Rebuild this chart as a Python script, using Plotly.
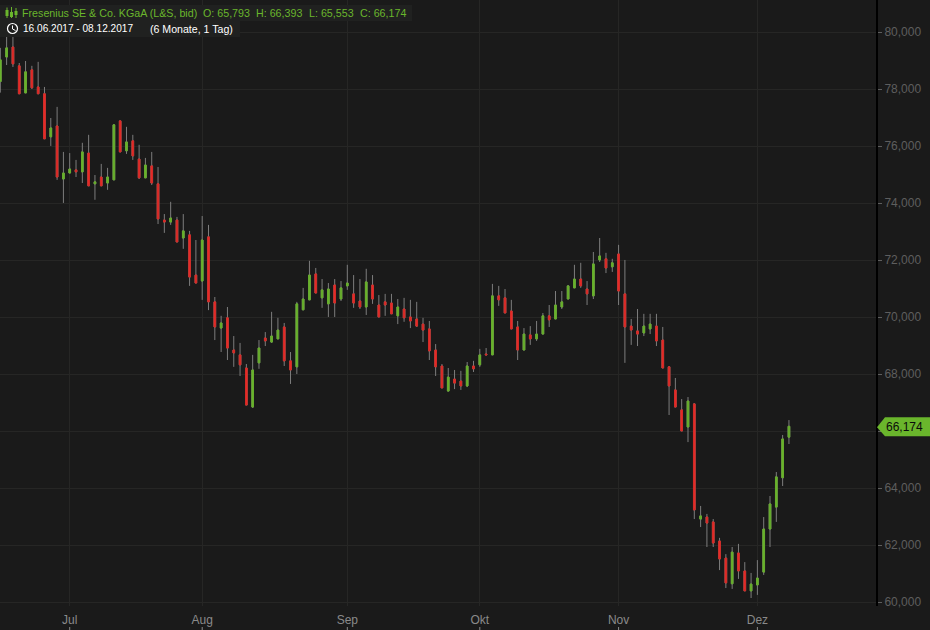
import pandas as pd
import plotly.graph_objects as go

dates = pd.bdate_range("2017-06-16", "2017-12-08")

opens = [78.27,79.13,79.48,78.82,77.87,78.68,78.08,77.84,76.33,76.71,74.85,75.06,75.17,75.10,75.76,74.68,74.92,74.71,74.82,76.89,
75.84,76.19,75.55,74.89,75.31,74.68,73.41,73.34,73.41,72.78,72.89,71.48,71.27,72.82,70.54,69.62,69.98,68.85,68.68,68.22,
66.85,68.40,69.27,69.13,69.24,69.66,68.47,68.26,70.26,70.61,71.52,70.68,70.47,71.13,70.64,71.10,70.82,70.57,70.36,71.13,
70.43,70.54,70.50,70.05,70.29,70.01,69.94,69.76,69.59,68.85,68.29,67.41,67.83,67.76,67.59,68.29,68.33,68.71,68.68,70.75,
70.68,70.22,69.66,68.85,69.38,69.24,69.41,70.05,69.94,70.36,70.64,71.03,71.34,70.99,70.75,72.01,72.05,71.77,72.22,70.82,
69.69,69.52,69.45,69.59,69.69,69.20,68.26,67.45,66.75,66.15,66.96,62.92,62.99,62.82,62.15,61.55,60.65,61.73,61.10,60.40,
60.61,61.06,62.57,63.34,64.37,65.793]

closes = [79.03,79.45,78.89,77.84,78.61,78.05,77.84,76.26,76.64,74.92,75.06,75.20,75.10,75.80,74.61,74.75,74.61,74.92,76.75,75.80,
76.15,75.66,74.89,75.34,74.71,73.45,73.34,73.48,72.64,73.03,71.41,71.20,72.71,70.54,69.66,69.80,68.92,68.75,68.33,66.92,
68.15,68.92,69.17,69.34,69.55,68.47,68.15,70.47,70.64,71.48,70.85,70.96,70.99,70.50,71.03,71.20,70.50,70.36,71.24,70.64,
70.01,70.43,70.12,70.36,69.98,69.87,69.69,69.55,68.82,68.26,67.52,67.90,67.69,67.59,68.29,68.19,68.68,68.68,70.75,70.61,
70.15,69.59,68.85,69.41,69.24,69.41,70.05,69.91,70.43,70.54,71.10,71.34,71.10,70.82,71.87,72.15,71.73,71.91,70.92,69.66,
69.55,69.41,69.69,69.76,69.17,68.22,67.59,66.85,66.01,67.06,63.24,63.03,62.78,62.08,61.52,60.68,61.76,61.10,60.40,60.64,
60.85,62.57,63.45,64.40,65.73,66.174]

highs = [79.45,79.94,79.94,78.92,78.99,78.82,78.96,78.08,76.99,77.38,75.80,75.76,75.52,76.12,76.40,74.99,75.38,75.24,76.78,76.89,
76.68,76.40,76.05,75.59,75.80,75.27,73.62,74.05,73.52,73.62,73.03,72.71,73.55,73.24,70.71,70.05,70.36,69.34,69.10,68.36,
68.68,69.20,69.48,70.19,69.98,69.80,68.78,70.54,71.03,71.98,71.73,71.34,71.20,71.34,71.27,71.84,71.48,71.34,71.70,71.48,
70.78,70.82,70.82,70.64,70.68,70.61,70.54,69.98,69.87,69.06,68.36,68.22,68.15,68.12,68.43,68.47,68.89,68.92,71.17,71.10,
70.99,70.61,69.87,69.62,69.69,69.87,70.15,70.43,70.92,70.92,71.13,71.84,71.91,71.27,72.29,72.78,72.26,72.05,72.54,72.01,
69.94,70.29,70.12,70.12,70.12,69.66,68.29,67.87,67.13,67.20,66.99,63.38,63.10,62.92,62.26,61.69,61.94,62.05,61.41,61.03,
61.48,62.99,63.73,64.57,65.87,66.393]

lows = [77.88,78.85,78.78,77.84,77.87,78.01,77.84,76.26,76.01,74.82,74.01,75.06,74.92,74.71,74.61,74.12,74.61,74.47,74.82,75.80,
75.73,75.52,74.85,74.89,74.64,73.27,72.96,73.24,72.64,72.40,71.10,71.20,70.61,70.25,69.20,68.78,68.50,68.26,67.94,66.92,
66.82,68.19,68.99,69.10,69.24,68.29,67.66,68.01,70.26,70.61,70.85,70.33,70.01,70.01,70.57,70.96,70.33,70.29,70.08,70.47,
70.01,70.05,70.12,69.76,69.84,69.62,69.66,69.13,68.50,67.94,67.52,67.41,67.48,67.45,67.55,68.08,68.26,68.68,68.68,70.40,
70.15,69.59,68.50,68.85,69.03,69.17,69.41,69.66,69.94,70.29,70.64,71.03,71.03,70.43,70.64,71.94,71.55,71.59,70.43,68.40,
69.03,68.99,69.34,69.41,68.99,68.22,66.57,66.85,66.01,65.62,62.92,62.64,61.94,61.94,61.13,60.50,60.47,60.82,60.40,60.15,
60.26,60.96,61.94,62.82,64.08,65.553]

month_labels = ["Jul", "Aug", "Sep", "Okt", "Nov", "Dez"]
price_ticks = [60, 62, 64, 66, 68, 70, 72, 74, 76, 78, 80]
# the 66,000 label sits behind the current-price tag in the reference
price_tick_labels = ["60,000", "62,000", "64,000", "", "68,000", "70,000",
                     "72,000", "74,000", "76,000", "78,000", "80,000"]

title = "Fresenius SE & Co. KGaA (L&S, bid)"
quote = ["O: 65,793", "H: 66,393", "L: 65,553", "C: 66,174"]
period = "16.06.2017 - 08.12.2017"
span = "(6 Monate, 1 Tag)"
last_label = "66,174"

BG = "#1a1a1a"
GRID = "#262625"
GREEN = "#6ab62c"
RED = "#f02b28"
FONT = "Liberation Sans, Arial, sans-serif"
W, H, PLOT_W, PLOT_H = 930, 630, 876, 606

sessions = list(range(len(dates)))
body_top = [max(a, b) for a, b in zip(opens, closes)]
body_bot = [min(a, b) for a, b in zip(opens, closes)]

# session index of the first trading day of each labelled month
month_ticks = []
seen = set()
for i, d in enumerate(dates):
    key = (d.year, d.month)
    if key not in seen:
        seen.add(key)
        if i > 0:
            month_ticks.append(i)

fig = go.Figure()
# thin grey wicks
fig.add_trace(go.Candlestick(
    x=sessions, open=opens, high=highs, low=lows, close=closes,
    increasing=dict(line=dict(color="#7d7d7d", width=1), fillcolor="#1a1a1a"),
    decreasing=dict(line=dict(color="#7d7d7d", width=1), fillcolor="#1a1a1a"),
    whiskerwidth=0, hoverinfo="skip", showlegend=False))
# coloured bodies on top
fig.add_trace(go.Candlestick(
    x=sessions, open=opens, high=body_top, low=body_bot, close=closes,
    increasing=dict(line=dict(color="#66ad2b", width=1), fillcolor=GREEN),
    decreasing=dict(line=dict(color="#d42a26", width=1), fillcolor=RED),
    whiskerwidth=0, showlegend=False))


def px(x):
    return x / PLOT_W


def py(y):
    return 1 - y / PLOT_H


shapes = [
    dict(type="rect", xref="paper", yref="paper", x0=px(0), x1=px(412), y0=py(5), y1=py(21),
         fillcolor="#202120", line_width=0, layer="above"),
    dict(type="rect", xref="paper", yref="paper", x0=px(0), x1=px(240), y0=py(21), y1=py(37),
         fillcolor="#202120", line_width=0, layer="above"),
    # clock icon
    dict(type="circle", xref="paper", yref="paper", x0=px(7.5), x1=px(17.5), y0=py(23.5), y1=py(33.5),
         line=dict(color="#ffffff", width=1.2), layer="above"),
    dict(type="line", xref="paper", yref="paper", x0=px(12.5), x1=px(12.5), y0=py(25.5), y1=py(29),
         line=dict(color="#ffffff", width=1), layer="above"),
    dict(type="line", xref="paper", yref="paper", x0=px(12.5), x1=px(15.5), y0=py(29), y1=py(30.5),
         line=dict(color="#ffffff", width=1), layer="above"),
    # current price tag
    dict(type="path", xref="paper", yref="y", xsizemode="pixel", ysizemode="pixel",
         xanchor=1, yanchor=closes[-1], path="M 1 -1 L 9 -10 L 54 -10 L 54 9 L 9 9 Z",
         fillcolor=GREEN, line_width=0, layer="above"),
]
# candle icon in the title row
for cx, (wt, wb, bt, bb) in zip([7, 11.5, 16], [(7.5, 18, 10, 16), (7, 18, 12, 17), (8, 18, 11, 15)]):
    shapes.append(dict(type="line", xref="paper", yref="paper", x0=px(cx), x1=px(cx), y0=py(wt), y1=py(wb),
                       line=dict(color=GREEN, width=1), layer="above"))
    shapes.append(dict(type="rect", xref="paper", yref="paper", x0=px(cx - 1.5), x1=px(cx + 1.5), y0=py(bt), y1=py(bb),
                       fillcolor=GREEN, line_width=0, layer="above"))
# little marks below the month labels
for t in month_ticks:
    shapes.append(dict(type="line", xref="x", yref="paper", x0=t, x1=t, y0=py(627), y1=py(630),
                       line=dict(color="#8a8a8a", width=1), layer="above"))


def label(x, y, text, color, size):
    return dict(xref="paper", yref="paper", x=px(x), y=py(y), text=text, showarrow=False,
                xanchor="left", yanchor="middle", align="left", xshift=-2,
                font=dict(family=FONT, size=size, color=color))


annotations = [label(22, 13, title, GREEN, 10.7), label(23, 29, period, "#ffffff", 10.1),
               label(150, 29, span, "#ffffff", 10.6)]
for x, text in zip([203, 256, 309, 360], quote):
    annotations.append(label(x, 13, text, GREEN, 10.7))
annotations.append(dict(xref="paper", yref="y", x=1, y=closes[-1], text=last_label, showarrow=False,
                        xanchor="left", yanchor="middle", xshift=8, yshift=-1,
                        font=dict(family=FONT, size=12, color="#0b0b0b")))

fig.update_layout(
    width=W, height=H, autosize=False,
    margin=dict(l=0, r=W - PLOT_W, t=0, b=H - PLOT_H, pad=0),
    paper_bgcolor=BG, plot_bgcolor=BG, showlegend=False, boxgap=0.62,
    shapes=shapes, annotations=annotations,
    xaxis=dict(range=[-0.05, 138.8], rangeslider=dict(visible=False),
               tickmode="array", tickvals=month_ticks, ticktext=month_labels,
               showgrid=True, gridcolor=GRID, gridwidth=1, zeroline=False, showline=False,
               ticks="", ticklen=0, ticklabelstandoff=5,
               tickfont=dict(family=FONT, size=12, color="#8a8a8a")),
    yaxis=dict(side="right", range=[59.87, 81.13], tickmode="array",
               tickvals=price_ticks, ticktext=price_tick_labels,
               showgrid=True, gridcolor=GRID, gridwidth=1, zeroline=False,
               showline=True, linecolor="#000000", linewidth=2, mirror=False,
               ticks="outside", ticklen=4, tickcolor="#5e5e5e", tickwidth=1,
               tickfont=dict(family=FONT, size=12, color="#5e5e5e")),
)

fig.write_html("out.html", config=dict(displayModeBar=False),
               post_script="document.body.style.margin='0';document.body.style.background='#1a1a1a';")
